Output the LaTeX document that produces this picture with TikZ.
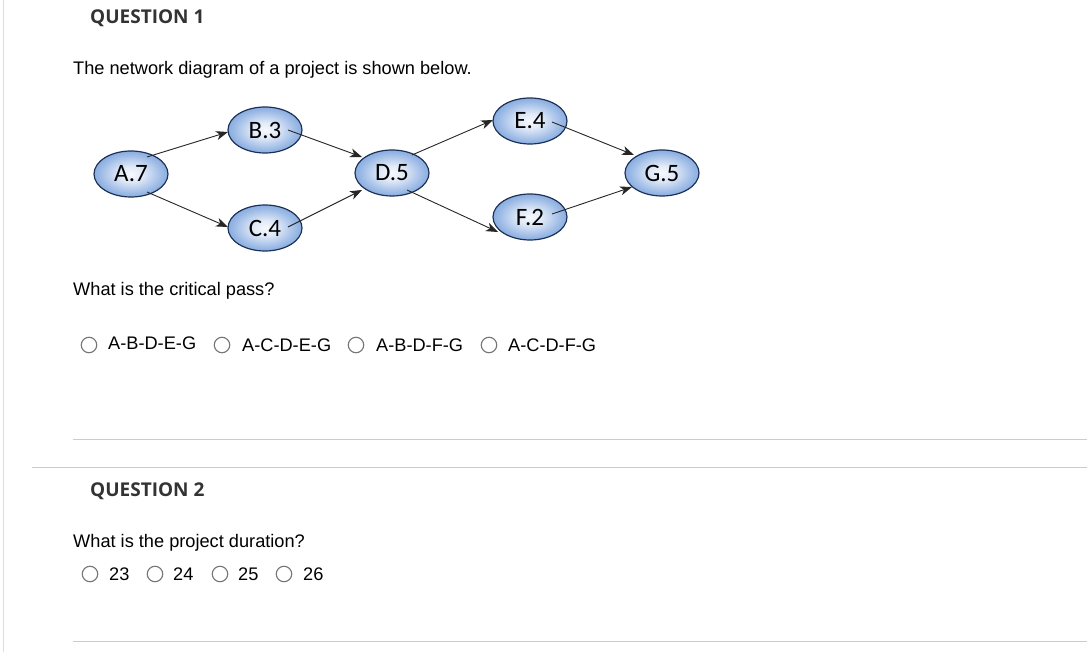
\documentclass[tikz,border=0pt]{standalone}
\usepackage{fontspec}
\setmainfont{Liberation Sans}
\newfontfamily\headfont{Open Sans}
\newfontfamily\nodefont{Carlito}
\usetikzlibrary{shapes.geometric,arrows.meta,calc}
\definecolor{rulegray}{HTML}{CCCCCC}
\definecolor{sidegray}{HTML}{DDDDDD}
\definecolor{radiogray}{HTML}{767676}
\definecolor{headcol}{HTML}{333333}
\definecolor{edgeblue}{HTML}{1C3158}
\definecolor{connector}{HTML}{262626}
\pgfdeclareradialshading{ellshade}{\pgfpoint{0bp}{0bp}}{%
  color(0bp)=({rgb,255:red,246;green,249;blue,254});
  color(8bp)=({rgb,255:red,225;green,234;blue,248});
  color(22bp)=({rgb,255:red,150;green,182;blue,228});
  color(36bp)=({rgb,255:red,100;green,140;blue,208});
  color(50bp)=({rgb,255:red,74;green,112;blue,186})}
\tikzset{
  task/.style={ellipse, draw=edgeblue, line width=1.2pt, shading=ellshade,
    minimum width=74pt, minimum height=46pt, inner sep=0pt,
    font=\nodefont\fontsize{25}{28}\selectfont},
  conn/.style={draw=connector, line width=0.9pt,
    -{Stealth[length=12pt,width=9pt,inset=3.5pt]}},
  txt/.style={anchor=base west, inner sep=0pt, font=\fontsize{18.2}{21}\selectfont},
  head/.style={anchor=base west, inner sep=0pt, text=headcol,
    font=\headfont\bfseries\fontsize{19}{22}\selectfont},
  radio/.style={draw=radiogray, line width=1.1pt, fill=white, circle,
    minimum size=15.5pt, inner sep=0pt},
  hrule/.style={draw=rulegray, line width=1pt}
}
\begin{document}
\begin{tikzpicture}[x=1pt,y=-1pt]
\useasboundingbox (0,0) rectangle (1087,652);
\fill[white] (0,0) rectangle (1087,652);
\draw[draw=sidegray, line width=1pt] (3,0) -- (3,652);

\node[head] (q1) at (90,24) {QUESTION 1};
\node[txt] (intro) at (73,75) {The network diagram of a project is shown below.};

\node[task] (A) at (131,174) {A.7};
\node[task] (B) at (265,130) {B.3};
\node[task] (C) at (265,228) {C.4};
\node[task] (D) at (392,173) {D.5};
\node[task] (E) at (530,121) {E.4};
\node[task] (F) at (530,217) {F.2};
\node[task] (G) at (662,173) {G.5};

\draw[conn] ($(A)+(16,-17)$) -- ($(B)+(-37,2)$);
\draw[conn] ($(A)+(16,18)$) -- ($(C)+(-37,-1)$);
\draw[conn] ($(B)+(23,0)$) -- ($(D)+(-30,-16)$);
\draw[conn] ($(C)+(23,-1)$) -- ($(D)+(-30,17)$);
\draw[conn] ($(D)+(20,-18)$) -- ($(E)+(-37,-1)$);
\draw[conn] ($(D)+(15,17)$) -- ($(F)+(-32,15)$);
\draw[conn] ($(E)+(22,1)$) -- ($(G)+(-28,-18)$);
\draw[conn] ($(F)+(22,-3)$) -- ($(G)+(-30,14)$);

\node[txt] (ask1) at (73,296) {What is the critical pass?};

\node[radio] (r1) at (89,345) {};
\node[txt] (o1) at (108,349) {A-B-D-E-G};
\node[radio] (r2) at (222,345) {};
\node[txt] (o2) at (242,351) {A-C-D-E-G};
\node[radio] (r3) at (356,345) {};
\node[txt] (o3) at (376,351) {A-B-D-F-G};
\node[radio] (r4) at (489,345) {};
\node[txt] (o4) at (508,351) {A-C-D-F-G};

\draw[hrule] (73,439) -- (1087,439);
\draw[hrule] (32,467) -- (1087,467);

\node[head] (q2) at (90,496) {QUESTION 2};
\node[txt] (ask2) at (73,547) {What is the project duration?};

\node[radio] (s1) at (90,574) {};
\node[txt] (n1) at (109,580) {23};
\node[radio] (s2) at (155,574) {};
\node[txt] (n2) at (173,580) {24};
\node[radio] (s3) at (220,574) {};
\node[txt] (n3) at (238,580) {25};
\node[radio] (s4) at (284,574) {};
\node[txt] (n4) at (303,580) {26};

\draw[hrule] (73,641) -- (1087,641);
\end{tikzpicture}
\end{document}
